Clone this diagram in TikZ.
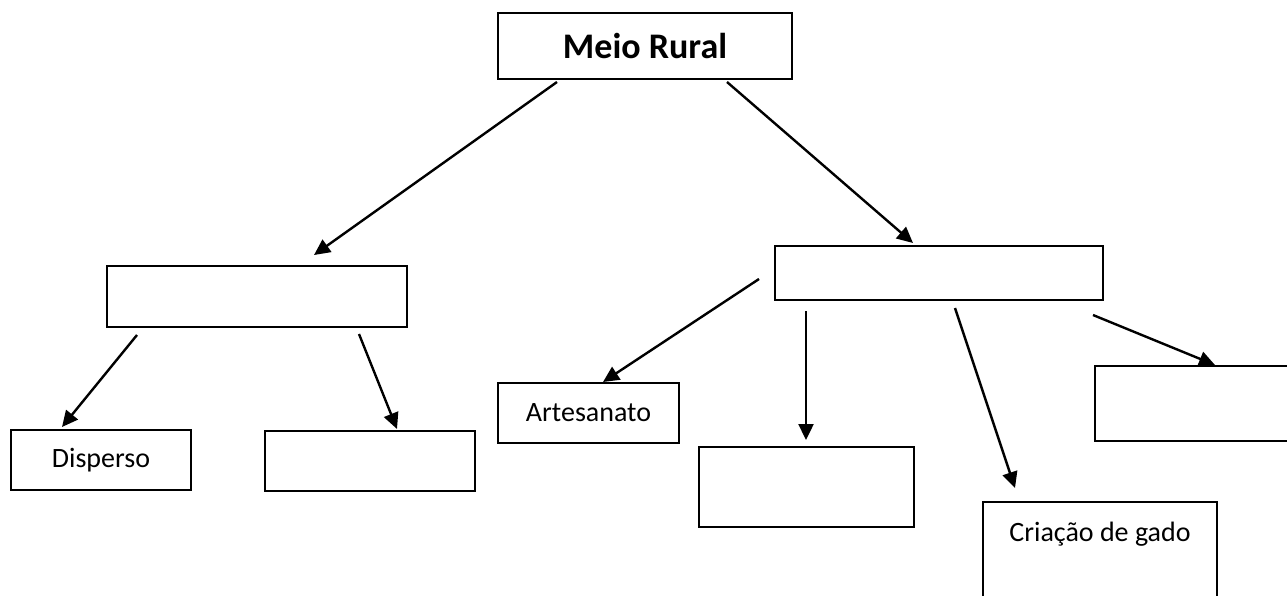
\documentclass[tikz,border=0pt]{standalone}
\usepackage{fontspec}
\setmainfont{Carlito}
\usetikzlibrary{arrows.meta}
\begin{document}
\begin{tikzpicture}[x=1pt,y=-1pt,
  box/.style={draw,line width=1.8pt,rectangle,inner sep=0pt},
  conn/.style={line width=2.4pt,-{Triangle[length=16pt,width=15pt]}},
  lbl/.style={font=\fontsize{28}{32}\selectfont,inner sep=0pt}]
\useasboundingbox (0,0) rectangle (1287,595);
% boxes
\node[box,minimum width=294pt,minimum height=66pt,font=\bfseries\fontsize{36}{40}\selectfont] (rural) at (645,46) {Meio Rural};
\node[box,minimum width=300pt,minimum height=61pt] (left) at (257,296.5) {};
\node[box,minimum width=328pt,minimum height=54pt] (right) at (939,273) {};
\node[box,minimum width=180pt,minimum height=60pt,lbl] (disp) at (101,460) {Disperso};
\node[box,minimum width=210pt,minimum height=60pt] (lb) at (370,461) {};
\node[box,minimum width=181pt,minimum height=60pt,lbl] (art) at (588.5,413) {Artesanato};
\node[box,minimum width=215pt,minimum height=80pt] (mb) at (806.5,487) {};
\node[box,minimum width=234pt,minimum height=110pt] (gado) at (1100,557) {};
\node[lbl] (gadotxt) at (1100,534) {Criação de gado};
\node[box,minimum width=210pt,minimum height=75pt] (rb) at (1200,403.5) {};
% connector endpoints
\coordinate (s1) at (557,82);  \coordinate (t1) at (314,255);
\coordinate (s2) at (727,82);  \coordinate (t2) at (913,243);
\coordinate (s3) at (137,335); \coordinate (t3) at (62,427);
\coordinate (s4) at (359,334); \coordinate (t4) at (397,429);
\coordinate (s5) at (759,279); \coordinate (t5) at (603,382);
\coordinate (s6) at (806,311); \coordinate (t6) at (806,440);
\coordinate (s7) at (955,308); \coordinate (t7) at (1015,488);
\coordinate (s8) at (1093,315); \coordinate (t8) at (1215,365);
\draw[conn] (s1) -- (t1);
\draw[conn] (s2) -- (t2);
\draw[conn] (s3) -- (t3);
\draw[conn] (s4) -- (t4);
\draw[conn] (s5) -- (t5);
\draw[conn] (s6) -- (t6);
\draw[conn] (s7) -- (t7);
\draw[conn] (s8) -- (t8);
\end{tikzpicture}
\end{document}
